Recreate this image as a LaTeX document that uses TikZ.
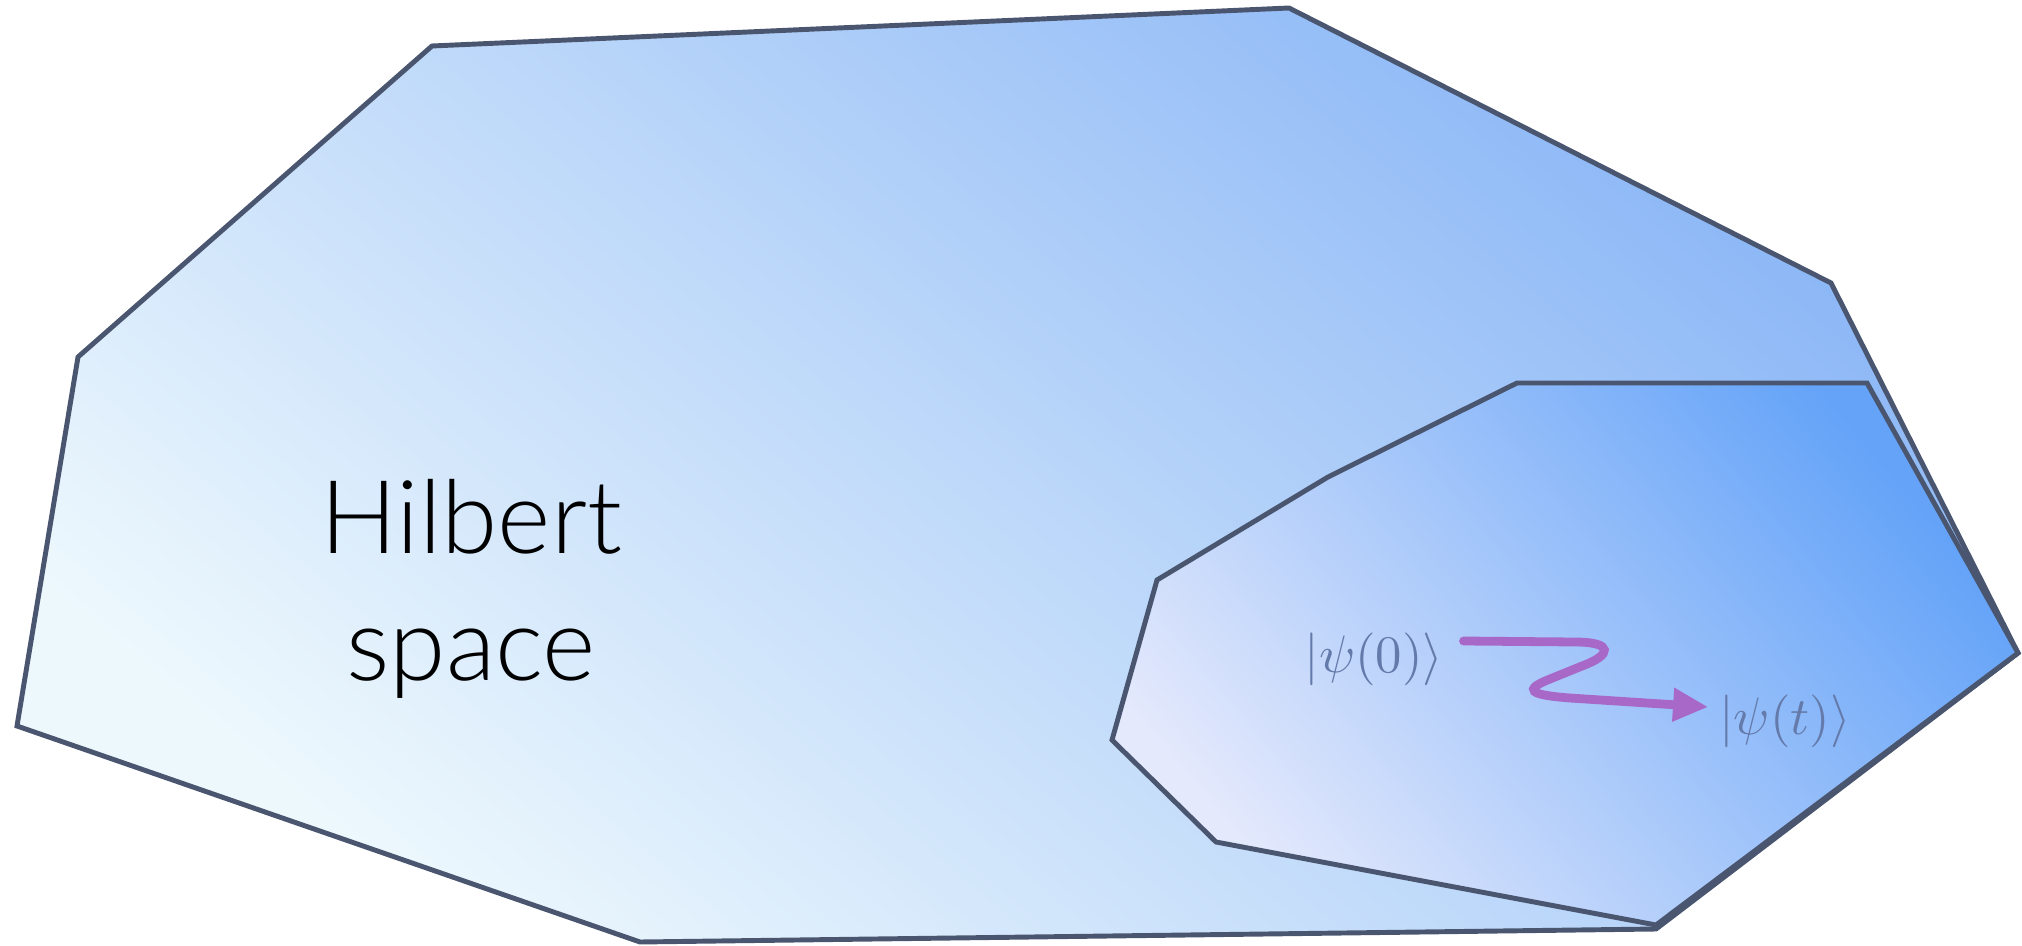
\documentclass[tikz,border=0pt]{standalone}
\usepackage{amsmath, amssymb}
\usepackage{fontspec}
\newfontfamily\hilbertfont{Lato Light}
\usepackage{tikz}
\usetikzlibrary{calc, arrows.meta}

\definecolor{edgecol}{HTML}{4A5670}
\definecolor{outerlow}{HTML}{EDF8FD}
\definecolor{outerhigh}{HTML}{8AB6F6}
\definecolor{innerlow}{HTML}{E4E9FC}
\definecolor{innerhigh}{HTML}{64A3F8}
\definecolor{ketcol}{HTML}{647AAA}
\definecolor{flowcol}{HTML}{A868C8}

\tikzset{
  region/.style={draw=edgecol, line width=1.4pt, line join=miter},
  ket/.style={text=ketcol, inner sep=0pt, scale=1.5},
  evolve/.style={draw=flowcol, line width=2.5pt, line cap=round,
    -{Triangle[length=10pt, width=9pt]}}
}

\begin{document}
\begin{tikzpicture}[x=0.01cm, y=0.01cm]
    \useasboundingbox (0,0) rectangle (2022,945);

            % Hilbert space (outer region)
            \draw[region, bottom color=outerlow, top color=outerhigh, shading angle=-40]
              (78,588) -- (432,899) -- (1289,937) -- (1831,662) -- (2018,292)
              -- (1656,16) -- (640,3) -- (17,219) -- cycle;

            % Subspace (inner region)
            \draw[region, bottom color=innerlow, top color=innerhigh, shading angle=-50]
              (1517,562) -- (1867,562) -- (2018,292) -- (1656,20) -- (1216,103)
              -- (1112,205) -- (1157,365) -- (1328,468) -- cycle;

            % Label
            \node[anchor=base, align=center, font=\hilbertfont\fontsize{29}{36}\selectfont]
              (hilbert) at (471,265) {Hilbert\\space};

            % States
            \node[ket] (psi0) at (1374,286) {$|\psi(0)\rangle$};
            \node[ket] (psit) at (1785,224) {$|\psi(t)\rangle$};

            % Time evolution
            \draw[evolve] ([shift={(19,18)}]psi0.east) -- (1575,303)
              .. controls (1614,303) and (1612,290) .. (1582,279) -- (1550,266)
              .. controls (1522,255) and (1530,250) .. (1570,247)
              -- ([shift={(-10,14)}]psit.west);
        \end{tikzpicture}
\end{document}
